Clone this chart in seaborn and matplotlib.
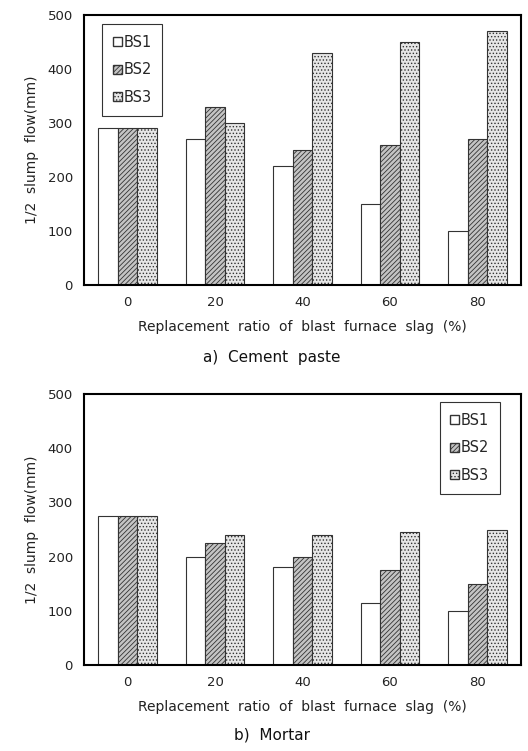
import numpy as np
import pandas as pd
import seaborn as sns
import matplotlib.pyplot as plt
from matplotlib.patches import Patch

ratios = ["0", "20", "40", "60", "80"]
series = ["BS1", "BS2", "BS3"]
paste_bs1 = [290, 270, 220, 150, 100]
paste_bs2 = [290, 330, 250, 260, 270]
paste_bs3 = [290, 300, 430, 450, 470]
mortar_bs1 = [275, 200, 180, 115, 100]
mortar_bs2 = [275, 225, 200, 175, 150]
mortar_bs3 = [275, 240, 240, 245, 250]

sns.set_style("white")
plt.rcParams["font.family"] = ["DejaVu Sans"]
plt.rcParams["hatch.linewidth"] = 0.6

styles = {"BS1": ("white", ""), "BS2": ("#c4c4c4", "///////"), "BS3": ("#e6e6e6", ".....")}

def make_df(a, b, c):
    rows = []
    for s, vals in zip(series, [a, b, c]):
        for r, v in zip(ratios, vals):
            rows.append({"ratio": r, "series": s, "flow": v})
    return pd.DataFrame(rows)

def draw(ax, df, legend_loc, anchor, caption, cap_y):
    sns.barplot(data=df, x="ratio", y="flow", hue="series", ax=ax,
                width=0.67, legend=False, saturation=1)
    for cont, s in zip(ax.containers, series):
        fc, h = styles[s]
        for bar in cont:
            bar.set_facecolor(fc)
            bar.set_edgecolor("#333333")
            bar.set_linewidth(0.8)
            bar.set_hatch(h)
    ax.set_ylim(0, 500)
    ax.set_yticks(range(0, 501, 100))
    ax.set_xlim(-0.5, 4.5)
    for sp in ax.spines.values():
        sp.set_linewidth(1.5)
        sp.set_color("black")
    ax.tick_params(axis="both", labelsize=9.5, length=0, pad=8, colors="#222222")
    ax.set_xlabel("Replacement  ratio  of  blast  furnace  slag  (%)", fontsize=10,
                  labelpad=8, color="#222222")
    ax.set_ylabel("1/2  slump  flow(mm)", fontsize=10, labelpad=6, color="#222222")
    handles = [Patch(facecolor=styles[s][0], hatch=styles[s][1], edgecolor="#333333", label=s)
               for s in series]
    leg = ax.legend(handles=handles, loc=legend_loc, bbox_to_anchor=anchor, fontsize=10.5,
                    handlelength=0.6, handleheight=0.6, handletextpad=0.1, labelspacing=0.85,
                    borderpad=0.75, borderaxespad=0, fancybox=False)
    leg.get_frame().set_edgecolor("black")
    leg.get_frame().set_linewidth(0.8)
    ax.text(0.43, cap_y, caption, transform=ax.transAxes, ha="center", va="center",
            fontsize=11, color="#111111")

fig = plt.figure(figsize=(5.28, 7.51), dpi=100)
ax1 = fig.add_axes([84/528, 1 - 285/751, 437/528, 270/751])
ax2 = fig.add_axes([84/528, 1 - 665/751, 437/528, 271/751])

draw(ax1, make_df(paste_bs1, paste_bs2, paste_bs3), "upper left",
     (18/437, 1 - 9/270), "a)  Cement  paste", -0.27)
draw(ax2, make_df(mortar_bs1, mortar_bs2, mortar_bs3), "upper right",
     (1 - 21/437, 1 - 8/271), "b)  Mortar", -0.258)

fig.savefig("out.png", dpi=100)
